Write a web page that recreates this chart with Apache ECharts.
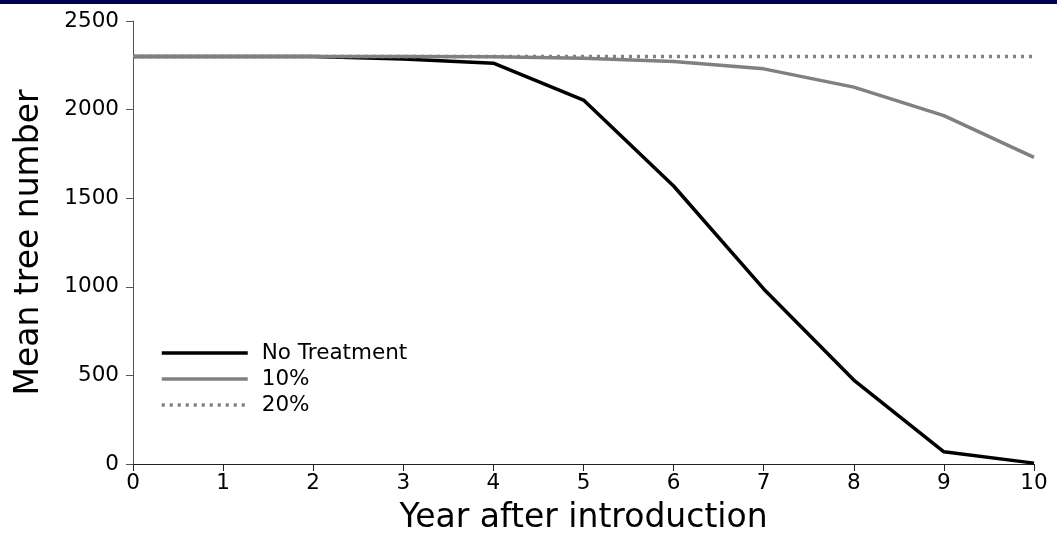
<!DOCTYPE html>
<html>
<head>
<meta charset="utf-8">
<script src="https://cdn.jsdelivr.net/npm/echarts@6/dist/echarts.min.js"></script>
<style>html,body{margin:0;padding:0;background:#fff;}#c{width:1057px;height:545px;}</style>
</head>
<body>
<div id="c"></div>
<script>
const years = [0, 1, 2, 3, 4, 5, 6, 7, 8, 9, 10];
const noTreatment = [2300, 2300, 2300, 2285, 2262, 2054, 1569, 988, 474, 69, 5];
const tenPercent = [2300, 2300, 2300, 2300, 2298, 2290, 2272, 2230, 2127, 1966, 1730];
const twentyPercent = [2300, 2300, 2300, 2300, 2300, 2300, 2300, 2300, 2300, 2300, 2300];
const seriesNames = ['No Treatment', '10%', '20%'];
const xTitle = 'Year after introduction';
const yTitle = 'Mean tree number';

const font = 'DejaVu Sans';
const pair = arr => years.map((y, i) => [y, arr[i]]);

const chart = echarts.init(document.getElementById('c'), null, {renderer: 'canvas'});
chart.setOption({
  animation: false,
  backgroundColor: '#fff',
  graphic: [{type: 'rect', left: 0, top: 0, shape: {width: 1057, height: 4}, style: {fill: '#000050'}}],
  grid: {left: 133, right: 23, top: 21, bottom: 81, containLabel: false},
  legend: {
    orient: 'vertical', left: 155, top: 335,
    itemWidth: 86, itemHeight: 14, itemGap: 0,
    itemStyle: {opacity: 0},
    lineStyle: {width: 3.5},
    textStyle: {fontFamily: font, fontSize: 21.5, color: '#000', lineHeight: 26, padding: [0, 0, 0, 9]},
    data: seriesNames
  },
  xAxis: {
    type: 'value', min: 0, max: 10, interval: 1,
    name: xTitle, nameLocation: 'middle', nameGap: 38,
    nameTextStyle: {fontFamily: font, fontSize: 33, color: '#000'},
    axisLine: {show: true, lineStyle: {color: '#222', width: 1}},
    axisTick: {show: true, inside: false, length: 7, lineStyle: {color: '#222'}},
    axisLabel: {fontFamily: font, fontSize: 21.5, color: '#000', margin: 8},
    splitLine: {show: false}
  },
  yAxis: {
    type: 'value', min: 0, max: 2500, interval: 500,
    name: yTitle, nameLocation: 'middle', nameGap: 87, nameRotate: 90,
    nameTextStyle: {fontFamily: font, fontSize: 33, color: '#000'},
    axisLine: {show: true, lineStyle: {color: '#555', width: 1}},
    axisTick: {show: true, inside: false, length: 7, lineStyle: {color: '#555'}},
    axisLabel: {fontFamily: font, fontSize: 21.5, color: '#000', margin: 14, formatter: v => String(v)},
    splitLine: {show: false}
  },
  series: [
    {name: seriesNames[0], type: 'line', data: pair(noTreatment), showSymbol: false, symbol: 'none',
     lineStyle: {color: '#000', width: 3.5}, itemStyle: {color: '#000'}, z: 2},
    {name: seriesNames[1], type: 'line', data: pair(tenPercent), showSymbol: false, symbol: 'none',
     lineStyle: {color: '#808080', width: 3.5}, itemStyle: {color: '#808080'}, z: 3},
    {name: seriesNames[2], type: 'line', data: pair(twentyPercent), showSymbol: false, symbol: 'none',
     lineStyle: {color: '#808080', width: 3.5, type: [3, 5]}, itemStyle: {color: '#808080'}, z: 4}
  ]
});
</script>
</body>
</html>
